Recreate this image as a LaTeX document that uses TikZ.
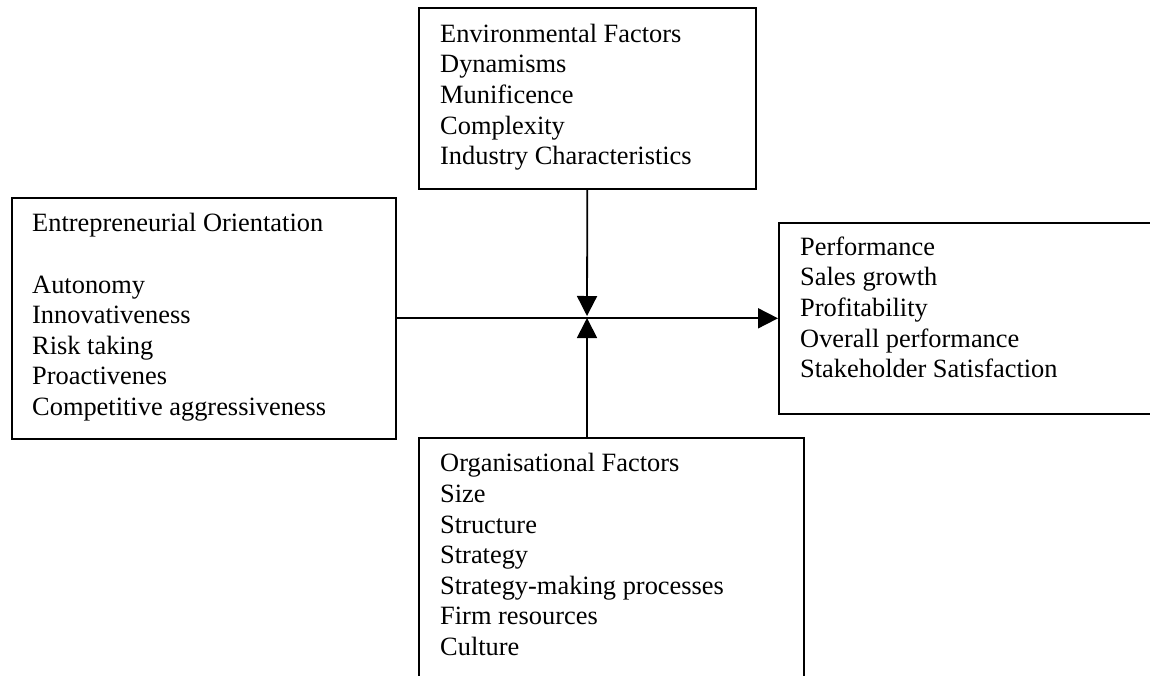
\documentclass[tikz,border=0pt]{standalone}
\usepackage{fontspec}
\setmainfont{Liberation Serif}
\usetikzlibrary{arrows.meta}
\begin{document}
\begin{tikzpicture}[x=1pt,y=-1pt,
  boxstyle/.style={draw=black,line width=1.6pt,fill=none},
  txtstyle/.style={anchor=base west,align=left,inner sep=0pt,
    font={\fontsize{26.4pt}{30.6pt}\selectfont}},
  conn/.style={line width=1.8pt},
  tip/.style={-{Triangle[length=20pt,width=20pt]}}]
\useasboundingbox (0,0) rectangle (1150,675);
\clip (0,0) rectangle (1150,675);
\fill[white] (0,0) rectangle (1150,675);
% boxes
\node[boxstyle,anchor=north west,minimum width=337pt,minimum height=181pt,inner sep=0pt] (env) at (418,7) {};
\node[boxstyle,anchor=north west,minimum width=384pt,minimum height=241pt,inner sep=0pt] (eo) at (11,197) {};
\node[boxstyle,anchor=north west,minimum width=390pt,minimum height=191pt,inner sep=0pt] (perf) at (778,222) {};
\node[boxstyle,anchor=north west,minimum width=385pt,minimum height=260pt,inner sep=0pt] (org) at (418,437) {};
% texts (anchor = baseline of last line)
\node[txtstyle] (envtxt) at (440,164.6) {Environmental Factors\\Dynamisms\\Munificence\\Complexity\\Industry Characteristics};
\node[txtstyle] (eotxt) at (32,415.4) {Entrepreneurial Orientation\\\mbox{}\\Autonomy\\Innovativeness\\Risk taking\\Proactivenes\\Competitive aggressiveness};
\node[txtstyle] (perftxt) at (800,377.6) {Performance\\Sales growth\\Profitability\\Overall performance\\Stakeholder Satisfaction};
\node[txtstyle] (orgtxt) at (440,655.4) {Organisational Factors\\Size\\Structure\\Strategy\\Strategy-making processes\\Firm resources\\Culture};
% connectors
\coordinate (meetdown) at (587,316);
\coordinate (meetup) at (587,318);
\coordinate (orgtop) at (587,437);
\draw[conn,tip] (eo.east) -- (perf.west);
\draw[conn,tip] (env.south) -- (meetdown);
\draw[conn,tip] (orgtop) -- (meetup);
\end{tikzpicture}
\end{document}
